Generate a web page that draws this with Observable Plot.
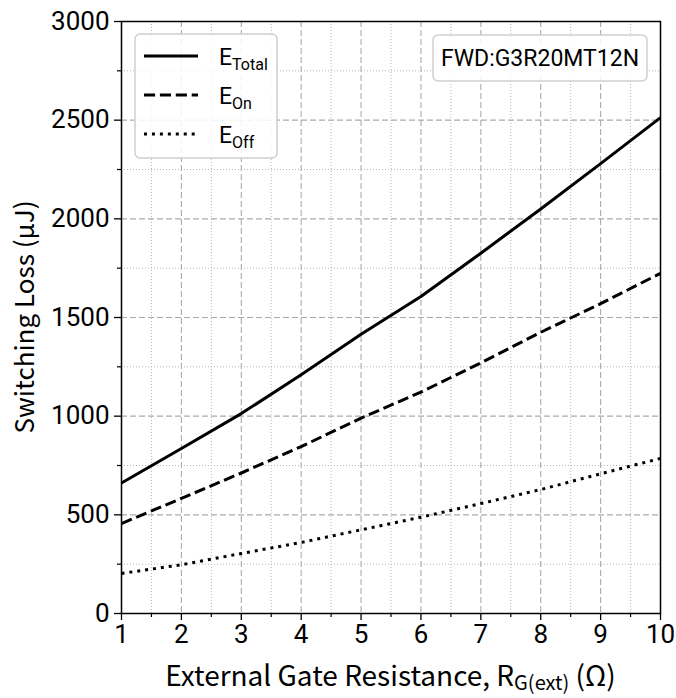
<!DOCTYPE html>
<html>
<head>
<meta charset="utf-8">
<script src="https://cdn.jsdelivr.net/npm/d3@7"></script>
<script src="https://cdn.jsdelivr.net/npm/@observablehq/plot@0.6"></script>
<style>
  html, body { margin: 0; padding: 0; background: #fff; }
  #chart svg { display: block; }
</style>
</head>
<body>
<div id="chart"></div>
<script>
// External gate resistance (Ω)
const rg = [1, 2, 3, 4, 5, 6, 7, 8, 9, 10];
// Switching energies (µJ)
const eTotal = [661, 836, 1013, 1210, 1415, 1606, 1826, 2050, 2280, 2513];
const eOn    = [456, 583, 712, 846, 990, 1122, 1270, 1425, 1570, 1724];
const eOff   = [203, 247, 304, 360, 424, 488, 557, 628, 708, 786];

const xTicks = [1, 2, 3, 4, 5, 6, 7, 8, 9, 10];
const xMinor = [1.5, 2.5, 3.5, 4.5, 5.5, 6.5, 7.5, 8.5, 9.5];
const yTicks = [0, 500, 1000, 1500, 2000, 2500, 3000];
const yMinor = [250, 750, 1250, 1750, 2250, 2750];

const seriesNames = ["Total", "On", "Off"];
const seriesValues = [eTotal, eOn, eOff];
const dashes = [null, "11.1,4.8", "3,4.95"];
const deviceLabel = "FWD:G3R20MT12N";

const rows = seriesNames.flatMap((name, i) =>
  rg.map((r, j) => ({series: name, r, e: seriesValues[i][j]}))
);

const W = 676, H = 698;
const mL = 121, mR = 16, mT = 21, mB = 85;

const tickFont = "Roboto, 'DejaVu Sans', sans-serif";
const labelFont = "'Noto Sans CJK JP', 'Noto Sans', sans-serif";

const chart = Plot.plot({
  width: W,
  height: H,
  marginLeft: mL,
  marginRight: mR,
  marginTop: mT,
  marginBottom: mB,
  style: {fontFamily: tickFont, background: "#fff", color: "#000"},
  x: {domain: [1, 10]},
  y: {domain: [0, 3000]},
  marks: [
    Plot.gridX(xMinor, {stroke: "#b8b8b8", strokeOpacity: 1, strokeWidth: 1, strokeDasharray: "1,2"}),
    Plot.gridY(yMinor, {stroke: "#b8b8b8", strokeOpacity: 1, strokeWidth: 1, strokeDasharray: "1,2"}),
    Plot.gridX(xTicks, {stroke: "#ababab", strokeOpacity: 1, strokeWidth: 1.1, strokeDasharray: "6,3"}),
    Plot.gridY(yTicks, {stroke: "#ababab", strokeOpacity: 1, strokeWidth: 1.1, strokeDasharray: "6,3"}),
    ...seriesNames.map((name, i) =>
      Plot.line(rows.filter(d => d.series === name), {
        x: "r", y: "e", stroke: "#000", strokeWidth: 3,
        strokeDasharray: dashes[i], strokeLinecap: "butt", curve: "linear"
      })
    ),
    Plot.frame({stroke: "#000", strokeWidth: 1.5}),
    Plot.axisX(xMinor, {tickSize: 4, tickFormat: () => "", strokeWidth: 1.2, label: null}),
    Plot.axisY(yMinor, {tickSize: 4, tickFormat: () => "", strokeWidth: 1.2, label: null}),
    Plot.axisX(xTicks, {tickSize: 7, tickPadding: 4, fontSize: 26, strokeWidth: 1.3, label: null, fill: "#000", tickFormat: d => String(d)}),
    Plot.axisY(yTicks, {tickSize: 7, tickPadding: 5, fontSize: 26, strokeWidth: 1.3, label: null, fill: "#000", tickFormat: d => String(d)})
  ]
});

document.getElementById("chart").appendChild(chart);

// Axis titles, legend and device annotation placed with the chart's scales
const sx = chart.scale("x"), sy = chart.scale("y");
const svg = d3.select(chart);
const x0 = sx.apply(1), x1 = sx.apply(10);
const y0 = sy.apply(0), y1 = sy.apply(3000);

const xl = svg.append("text")
  .attr("x", (x0 + x1) / 2).attr("y", H - 12)
  .attr("text-anchor", "middle")
  .attr("font-family", labelFont).attr("font-size", 28).attr("fill", "#000");
xl.append("tspan").text("External Gate Resistance, R");
xl.append("tspan").attr("font-size", 20).attr("dy", 4).text("G(ext)");
xl.append("tspan").attr("dy", -4).text(" (Ω)");

svg.append("text")
  .attr("transform", `translate(34,${(y0 + y1) / 2}) rotate(-90)`)
  .attr("text-anchor", "middle")
  .attr("font-family", labelFont).attr("font-size", 26).attr("fill", "#000")
  .text("Switching Loss (μJ)");

// Legend
const lg = svg.append("g");
lg.append("rect")
  .attr("x", x0 + 14).attr("y", y1 + 13).attr("width", 142).attr("height", 124)
  .attr("rx", 5).attr("fill", "#fff").attr("fill-opacity", 0.85)
  .attr("stroke", "#d0d0d0").attr("stroke-width", 1.5);
seriesNames.forEach((name, i) => {
  const ly = y1 + 35 + i * 39;
  lg.append("line")
    .attr("x1", x0 + 23).attr("x2", x0 + 77).attr("y1", ly).attr("y2", ly)
    .attr("stroke", "#000").attr("stroke-width", 3)
    .attr("stroke-dasharray", dashes[i]);
  const t = lg.append("text")
    .attr("x", x0 + 98).attr("y", ly + 9)
    .attr("text-anchor", "start")
    .attr("font-family", tickFont).attr("font-size", 23).attr("fill", "#000");
  t.append("tspan").text("E");
  t.append("tspan").attr("font-size", 16).attr("dy", 5).text(name);
});

// Device annotation box
const ag = svg.append("g");
ag.append("rect")
  .attr("x", 433).attr("y", y1 + 14).attr("width", 214).attr("height", 46)
  .attr("rx", 5).attr("fill", "#fff").attr("fill-opacity", 0.85)
  .attr("stroke", "#d0d0d0").attr("stroke-width", 1.5);
ag.append("text")
  .attr("x", 540).attr("y", y1 + 45)
  .attr("text-anchor", "middle")
  .attr("font-family", tickFont).attr("font-size", 23).attr("fill", "#000")
  .text(deviceLabel);
</script>
</body>
</html>
